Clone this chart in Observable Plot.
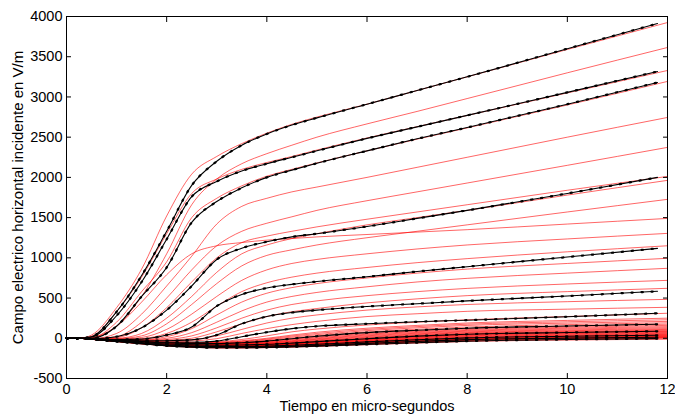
<!DOCTYPE html>
<html><head><meta charset="utf-8">
<script src="https://cdn.jsdelivr.net/npm/d3@7"></script>
<script src="https://cdn.jsdelivr.net/npm/@observablehq/plot@0.6"></script>
<style>body{margin:0;background:#fff}</style>
</head><body><div id="chart"></div>
<script>
// time samples (micro-seconds)
const timeRed   = [0,0.25,0.5,1,1.5,2,2.5,3,3.5,4,4.5,5,6,7,8,10,12];
const timeBlack = [0,0.25,0.5,1,1.5,2,2.5,3,3.5,4,4.5,5,6,7,8,10,11.8];
const xTicks = [0,2,4,6,8,10,12];
const yTicks = [-500,0,500,1000,1500,2000,2500,3000,3500,4000];
const xTitle = "Tiempo en micro-segundos";
const yTitle = "Campo electrico horizontal incidente en V/m";

// red curves (V/m)
const red01 = [0,0,40,380,860,1520,2040,2260,2420,2550,2660,2750,2910,3080,3250,3590,3925];
const red02 = [0,0,5,150,520,1050,1660,1980,2170,2295,2400,2500,2665,2820,2980,3300,3615];
const red03 = [0,0,25,330,760,1300,1800,1980,2100,2185,2260,2340,2490,2630,2770,3050,3329];
const red04 = [0,0,5,200,580,950,1500,1740,1895,2015,2100,2180,2330,2475,2615,2900,3193];
const red05 = [0,0,-5,60,300,650,1020,1420,1640,1740,1820,1880,2000,2125,2250,2500,2745];
const red06 = [0,0,-5,20,200,500,850,1150,1330,1430,1510,1590,1710,1820,1930,2150,2373];
const red07 = [0,0,-5,10,130,380,700,1000,1190,1270,1330,1385,1480,1570,1660,1840,2012];
const red08 = [0,0,-5,0,60,250,520,820,1050,1160,1240,1300,1410,1500,1590,1780,1963];
const red09 = [0,0,-8,-5,30,180,420,680,900,1030,1100,1160,1250,1330,1410,1570,1727];
const red10 = [0,0,10,150,450,790,1050,1150,1190,1220,1240,1260,1290,1320,1350,1420,1490];
const red11 = [0,0,-8,-10,10,110,300,520,720,850,930,980,1050,1110,1160,1235,1304];
const red12 = [0,0,-8,-15,-5,60,200,400,580,690,760,810,880,940,990,1075,1150];
const red13 = [0,0,-8,-18,-15,20,120,290,450,560,630,680,750,810,860,930,994];
const red14 = [0,0,-8,-20,-20,0,70,200,340,450,520,570,640,700,745,810,870];
const red15 = [0,0,-8,-22,-25,-15,30,130,250,350,420,465,530,580,620,675,720];
const red16 = [0,0,-8,-22,-30,-25,0,80,180,270,330,370,440,490,530,580,621];
const red17 = [0,0,-8,-25,-35,-35,-20,30,110,190,250,290,350,390,420,455,484];
const red18 = [0,0,-8,-25,-38,-45,-35,-5,60,120,170,210,270,305,335,362,385];
const red19 = [0,0,-8,-25,-40,-50,-55,-45,-15,30,80,115,165,200,230,270,311];
const red20 = [0,0,-8,-25,-40,-52,-58,-52,-30,0,40,75,125,160,190,222,250];
const red21 = [0,0,-8,-25,-41,-53,-60,-56,-38,-10,28,60,110,145,175,205,230];
const red22 = [0,0,-8,-26,-42,-55,-62,-60,-45,-20,15,45,95,130,160,188,210];
const red23 = [0,0,-9,-27,-43,-58,-65,-64,-52,-30,2,30,78,112,140,170,192];
const red24 = [0,0,-9,-28,-45,-60,-68,-68,-58,-40,-12,15,60,92,120,150,175];
const red25 = [0,0,-9,-28,-46,-62,-70,-71,-62,-46,-21,5,50,82,108,137,160];
const red26 = [0,0,-9,-29,-47,-63,-72,-74,-66,-52,-30,-5,40,72,98,125,145];
const red27 = [0,0,-10,-29,-48,-65,-74,-77,-70,-57,-36,-12,31,63,89,114,132];
const red28 = [0,0,-10,-30,-50,-66,-76,-79,-73,-62,-42,-20,22,55,80,103,120];
const red29 = [0,0,-10,-31,-51,-68,-78,-82,-77,-66,-48,-28,13,46,71,94,110];
const red30 = [0,0,-10,-31,-52,-69,-80,-84,-80,-70,-54,-35,5,38,63,85,100];
const red31 = [0,0,-11,-32,-53,-70,-82,-86,-83,-74,-59,-41,-3,30,55,78,92];
const red32 = [0,0,-11,-32,-54,-72,-84,-89,-86,-78,-64,-47,-10,22,47,70,85];
const red33 = [0,0,-11,-33,-55,-73,-86,-91,-88,-81,-68,-52,-15,16,41,63,77];
const red34 = [0,0,-11,-33,-56,-75,-88,-93,-91,-84,-71,-56,-20,10,35,57,70];
const red35 = [0,0,-11,-34,-57,-77,-90,-96,-94,-87,-75,-60,-25,4,29,50,62];
const red36 = [0,0,-11,-34,-58,-78,-92,-98,-97,-90,-78,-64,-30,-2,22,42,55];
const red37 = [0,0,-12,-35,-59,-80,-94,-100,-99,-93,-81,-68,-35,-7,16,36,48];
const red38 = [0,0,-12,-35,-60,-81,-95,-102,-101,-95,-84,-72,-40,-12,10,30,42];
const red39 = [0,0,-12,-36,-61,-83,-97,-104,-104,-98,-87,-76,-45,-18,4,23,36];
const red40 = [0,0,-12,-36,-62,-84,-99,-106,-106,-100,-90,-79,-50,-23,-2,17,30];
const red41 = [0,0,-12,-37,-63,-86,-101,-108,-108,-103,-93,-82,-54,-28,-6,12,25];
const red42 = [0,0,-12,-37,-64,-87,-102,-110,-110,-105,-96,-85,-58,-32,-10,8,20];
const red43 = [0,0,-13,-38,-65,-89,-104,-112,-112,-108,-99,-88,-62,-37,-15,3,15];
const red44 = [0,0,-13,-38,-66,-90,-106,-114,-114,-110,-101,-91,-66,-42,-20,-1,10];
const red45 = [0,0,-13,-39,-67,-91,-107,-116,-116,-112,-103,-94,-69,-46,-25,-6,5];
const red46 = [0,0,-13,-39,-68,-92,-108,-117,-117,-113,-105,-96,-72,-50,-29,-10,0];
const red47 = [0,0,-13,-40,-70,-95,-112,-120,-120,-117,-110,-101,-80,-60,-40,-22,-12];

// black curves with markers (V/m)
const black01 = [0,0,20,330,780,1330,1900,2200,2400,2540,2650,2740,2910,3080,3250,3600,3913];
const black02 = [0,0,15,280,700,1230,1760,1950,2080,2170,2250,2330,2485,2628,2771,3057,3317];
const black03 = [0,0,0,150,520,880,1440,1700,1870,2000,2090,2175,2330,2480,2620,2910,3180];
const black04 = [0,0,-5,20,130,350,650,980,1120,1200,1260,1300,1390,1490,1590,1800,2000];
const black05 = [0,0,-8,-15,-10,40,140,400,545,625,670,705,765,830,890,1010,1118];
const black06 = [0,0,-8,-25,-30,-30,-20,40,180,270,320,350,395,430,465,525,584];
const black07 = [0,0,-8,-25,-40,-50,-50,-35,20,75,120,150,180,205,225,268,311];
const black08 = [0,0,-8,-27,-44,-58,-66,-66,-55,-35,-5,25,70,100,125,152,174];
const black09 = [0,0,-10,-32,-53,-71,-82,-86,-83,-75,-60,-42,-5,27,50,72,87];
const black10 = [0,0,-12,-36,-61,-83,-97,-104,-103,-97,-87,-75,-45,-18,5,25,37];
const black11 = [0,0,-13,-38,-65,-89,-104,-112,-112,-108,-99,-89,-63,-38,-17,2,12];
const black12 = [0,0,-13,-40,-69,-94,-110,-118,-118,-115,-107,-98,-76,-55,-35,-15,-4];

const redSets = [red01,red02,red03,red04,red05,red06,red07,red08,red09,red10,red11,red12,red13,red14,red15,red16,red17,red18,red19,red20,red21,red22,red23,red24,red25,red26,red27,red28,red29,red30,red31,red32,red33,red34,red35,red36,red37,red38,red39,red40,red41,red42,red43,red44,red45,red46,red47];
const blackSets = [black01,black02,black03,black04,black05,black06,black07,black08,black09,black10,black11,black12];

const redRows = redSets.flatMap((vals, i) => vals.map((v, j) => ({t: timeRed[j], v, s: i})));
const blackRows = blackSets.flatMap((vals, i) => vals.map((v, j) => ({t: timeBlack[j], v, s: i})));

const fmt = d => String(d);

const chart = Plot.plot({
  width: 675,
  height: 414,
  marginLeft: 66,
  marginRight: 8,
  marginTop: 16,
  marginBottom: 36,
  style: {fontFamily: "'Liberation Sans', Arial, sans-serif", fontSize: "14.5px", color: "black", background: "white"},
  x: {domain: [0, 12]},
  y: {domain: [-500, 4000]},
  marks: [
    Plot.line(redRows, {x: "t", y: "v", z: "s", stroke: "#ff0000", strokeWidth: 0.75, strokeOpacity: 0.8, curve: "monotone-x"}),
    Plot.line(blackRows, {x: "t", y: "v", z: "s", stroke: "black", strokeWidth: 1.1, curve: "monotone-x"}),
    Plot.line(blackRows, {x: "t", y: "v", z: "s", stroke: "black", strokeWidth: 2.2, strokeDasharray: "1.3 8.7", curve: "monotone-x"}),
    Plot.frame({stroke: "black", strokeWidth: 1}),
    Plot.axisX(xTicks, {anchor: "bottom", tickSize: -5, tickPadding: 10.5, tickFormat: fmt, label: null, fontSize: 14.5}),
    Plot.axisX(xTicks, {anchor: "top", tickSize: -5, tickFormat: () => "", label: null}),
    Plot.axisY(yTicks, {anchor: "left", tickSize: -5, tickPadding: 9, tickFormat: fmt, label: null, fontSize: 14.5}),
    Plot.axisY(yTicks, {anchor: "right", tickSize: -5, tickFormat: () => "", label: null}),
    Plot.text([xTitle], {frameAnchor: "bottom", lineAnchor: "middle", textAnchor: "middle", dy: 28, fontSize: 14.5, fill: "black"}),
    Plot.text([yTitle], {frameAnchor: "left", textAnchor: "middle", lineAnchor: "middle", rotate: -90, dx: -48, fontSize: 15, fill: "black"})
  ]
});
document.getElementById("chart").appendChild(chart);
</script>
</body></html>
